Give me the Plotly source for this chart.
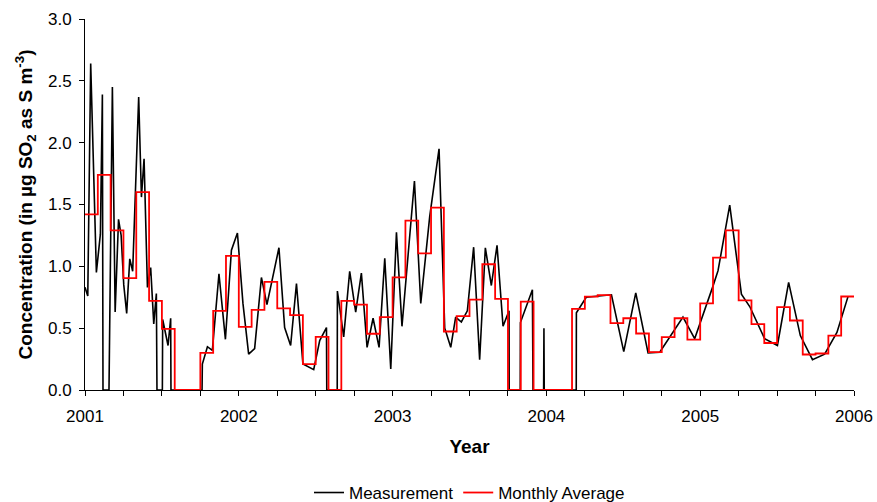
import plotly.graph_objects as go

# Measurement samples: decimal year and concentration (µg SO2 as S m-3)
meas_year = [
    2001.000, 2001.018, 2001.037, 2001.074, 2001.100, 2001.113, 2001.117, 2001.156,
    2001.178, 2001.196, 2001.218, 2001.235, 2001.252, 2001.271, 2001.291, 2001.310,
    2001.349, 2001.367, 2001.384, 2001.406, 2001.427, 2001.447, 2001.464, 2001.468,
    2001.503, 2001.505, 2001.540, 2001.557, 2001.559, 2001.761, 2001.763, 2001.796,
    2001.828, 2001.871, 2001.913, 2001.952, 2001.991, 2002.027, 2002.064, 2002.103,
    2002.147, 2002.183, 2002.261, 2002.298, 2002.337, 2002.375, 2002.417, 2002.454,
    2002.487, 2002.526, 2002.570, 2002.572, 2002.640, 2002.641, 2002.682, 2002.721,
    2002.760, 2002.797, 2002.834, 2002.873, 2002.912, 2002.949, 2002.988, 2003.025,
    2003.061, 2003.142, 2003.183, 2003.241, 2003.302, 2003.339, 2003.378, 2003.410,
    2003.447, 2003.486, 2003.527, 2003.566, 2003.603, 2003.642, 2003.679, 2003.718,
    2003.757, 2003.758, 2003.830, 2003.831, 2003.909, 2003.913, 2003.982, 2003.984,
    2003.986, 2004.194, 2004.195, 2004.259, 2004.340, 2004.423, 2004.503, 2004.581,
    2004.661, 2004.737, 2004.888, 2004.964, 2005.083, 2005.116, 2005.192, 2005.268,
    2005.322, 2005.419, 2005.502, 2005.575, 2005.651, 2005.730, 2005.809, 2005.889,
    2005.961,
]
meas_value = [
    0.83, 0.76, 2.64, 0.95, 1.26, 2.39, 0.0, 0.0,
    2.45, 0.63, 1.38, 1.25, 0.85, 0.62, 1.06, 0.96,
    2.37, 1.56, 1.87, 0.83, 0.99, 0.535, 0.78, 0.0,
    0.0, 0.57, 0.36, 0.58, 0.0, 0.0, 0.21, 0.35,
    0.32, 0.94, 0.41, 1.13, 1.27, 0.70, 0.29, 0.335,
    0.91, 0.69, 1.15, 0.505, 0.36, 0.86, 0.21, 0.185,
    0.165, 0.40, 0.505, 0.0, 0.0, 0.80, 0.43, 0.96,
    0.63, 0.945, 0.345, 0.58, 0.345, 1.065, 0.17, 1.275,
    0.515, 1.69, 0.70, 1.40, 1.95, 0.50, 0.345, 0.59,
    0.55, 0.64, 1.155, 0.245, 1.15, 0.845, 1.17, 0.515,
    0.64, 0.0, 0.0, 0.545, 0.81, 0.0, 0.0, 0.50,
    0.0, 0.0, 0.625, 0.75, 0.76, 0.77, 0.31, 0.785,
    0.30, 0.305, 0.59, 0.415, 0.84, 0.965, 1.495, 0.775,
    0.675, 0.415, 0.36, 0.87, 0.44, 0.245, 0.29, 0.465,
    0.755,
]

# Monthly averages, Jan..Dec
years = [2001, 2002, 2003, 2004, 2005]
monthly_2001 = [1.42, 1.74, 1.29, 0.905, 1.60, 0.72, 0.495, 0.0, 0.0, 0.30, 0.64, 1.085]
monthly_2002 = [0.51, 0.648, 0.875, 0.66, 0.605, 0.21, 0.43, 0.0, 0.72, 0.69, 0.455, 0.59]
monthly_2003 = [0.91, 1.37, 1.105, 1.475, 0.473, 0.597, 0.73, 1.017, 0.737, 0.0, 0.715, 0.0]
monthly_2004 = [0.0, 0.0, 0.656, 0.755, 0.767, 0.54, 0.58, 0.457, 0.306, 0.427, 0.58, 0.408]
monthly_2005 = [0.70, 1.07, 1.29, 0.724, 0.532, 0.38, 0.67, 0.562, 0.287, 0.295, 0.44, 0.756]

year_ticks = [2001, 2002, 2003, 2004, 2005, 2006]
y_ticks = [0.0, 0.5, 1.0, 1.5, 2.0, 2.5, 3.0]

monthly_all = monthly_2001 + monthly_2002 + monthly_2003 + monthly_2004 + monthly_2005
monthly_x = [y + m / 12 for y in years for m in range(12)] + [years[-1] + 1]
monthly_y = monthly_all + [monthly_all[-1]]

FONT = "Arial, 'Liberation Sans', sans-serif"

fig = go.Figure()
fig.add_trace(go.Scatter(
    x=meas_year, y=meas_value, mode="lines", name="Measurement",
    line=dict(color="black", width=1.6),
))
fig.add_trace(go.Scatter(
    x=monthly_x, y=monthly_y, mode="lines", name="Monthly Average",
    line=dict(color="#ff0000", width=1.8, shape="hv"),
))

fig.update_layout(
    width=877, height=502,
    margin=dict(l=85, r=23, t=19, b=112, autoexpand=False),
    paper_bgcolor="white", plot_bgcolor="white",
    font=dict(family=FONT, size=17, color="black"),
    showlegend=True,
    legend=dict(orientation="h", x=0.5, xanchor="center", xref="paper",
                y=0.018, yanchor="middle", yref="container",
                font=dict(size=17), itemwidth=30, tracegroupgap=0),
    xaxis=dict(
        range=[2001, 2006], tickvals=year_ticks, ticktext=[str(v) for v in year_ticks],
        ticks="outside", ticklen=5, tickcolor="black", showline=True, linecolor="black",
        linewidth=1, showgrid=False, zeroline=False, layer="below traces", automargin=False,
        minor=dict(dtick=0.25, tick0=2001, ticks="outside", ticklen=5, tickcolor="black", showgrid=False),
        title=dict(text="<b>Year</b>", font=dict(size=19), standoff=14),
        ticklabelstandoff=6,
    ),
    yaxis=dict(
        range=[0, 3], tickvals=y_ticks, ticktext=[f"{v:.1f}" for v in y_ticks],
        ticks="outside", ticklen=5, tickcolor="black", showline=True, linecolor="black",
        linewidth=1, showgrid=False, zeroline=False, automargin=False,
        title=dict(text="<b>Concentration (in µg SO<sub>2</sub> as S m<sup>-3</sup>)</b>",
                   font=dict(size=19), standoff=10),
        ticklabelstandoff=4,
    ),
)

fig.write_html("out.html")
